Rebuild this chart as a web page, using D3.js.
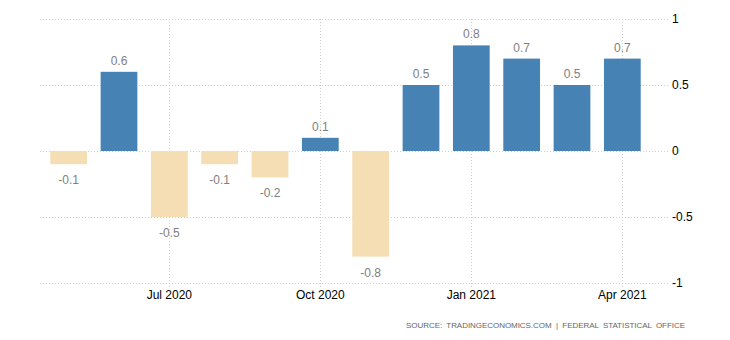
<!DOCTYPE html>
<html>
<head>
<meta charset="utf-8">
<script src="https://cdn.jsdelivr.net/npm/d3@7"></script>
<style>
  body { margin: 0; background: #fff; }
  svg { display: block; font-family: "Liberation Sans", Arial, sans-serif; }
</style>
</head>
<body>
<div id="chart"></div>
<script>
// monthly change, percent
var months = ["May 2020", "Jun 2020", "Jul 2020", "Aug 2020", "Sep 2020", "Oct 2020",
              "Nov 2020", "Dec 2020", "Jan 2021", "Feb 2021", "Mar 2021", "Apr 2021"];
var values = [-0.1, 0.6, -0.5, -0.1, -0.2, 0.1, -0.8, 0.5, 0.8, 0.7, 0.5, 0.7];
var xTicks = ["Jul 2020", "Oct 2020", "Jan 2021", "Apr 2021"];
var yTicks = [-1, -0.5, 0, 0.5, 1];

var width = 730, height = 340;

var svg = d3.select("#chart")
	.append("svg")
	.attr("width", width)
	.attr("height", height);

var x = d3.scaleBand()
	.domain(months)
	.range([43.5, 647.5])
	.paddingInner(0.27)
	.paddingOuter(0.135);

var y = d3.scaleLinear()
	.domain([-1, 1])
	.range([283, 19]);

var grid = svg.append("g")
	.attr("stroke", "#cfcfcf")
	.attr("stroke-width", 1)
	.attr("stroke-dasharray", "1,2");

// horizontal grid
grid.selectAll("line.h")
	.data(yTicks)
	.enter()
	.append("line")
	.attr("class", "h")
	.attr("x1", 40)
	.attr("x2", 668)
	.attr("y1", function(d){ return Math.round(y(d)) + 0.5; })
	.attr("y2", function(d){ return Math.round(y(d)) + 0.5; });

// vertical grid on quarter months
grid.selectAll("line.v")
	.data(xTicks)
	.enter()
	.append("line")
	.attr("class", "v")
	.attr("x1", function(d){ return Math.round(x(d) + x.bandwidth() / 2) + 0.5; })
	.attr("x2", function(d){ return Math.round(x(d) + x.bandwidth() / 2) + 0.5; })
	.attr("y1", 19)
	.attr("y2", 289);

svg.selectAll("rect.bar")
	.data(values)
	.enter()
	.append("rect")
	.attr("class", "bar")
	.attr("x", function(d, i){ return x(months[i]); })
	.attr("width", x.bandwidth())
	.attr("y", function(d){ return y(Math.max(0, d)); })
	.attr("height", function(d){ return Math.abs(y(d) - y(0)); })
	.style("fill", function(d){ return d >= 0 ? "#4682b4" : "#f5deb3"; });

svg.selectAll("text.val")
	.data(values)
	.enter()
	.append("text")
	.attr("class", "val")
	.attr("x", function(d, i){ return x(months[i]) + x.bandwidth() / 2; })
	.attr("y", function(d){ return d >= 0 ? y(d) - 7 : y(d) + 20; })
	.attr("text-anchor", "middle")
	.attr("font-size", 12)
	.attr("fill", "#808080")
	.text(function(d){ return d; });

// y axis labels on the right
svg.selectAll("text.ytick")
	.data(yTicks)
	.enter()
	.append("text")
	.attr("class", "ytick")
	.attr("x", 672)
	.attr("y", function(d){ return y(d) + 4; })
	.attr("font-size", 12)
	.attr("fill", "#000")
	.text(function(d){ return d; });

svg.selectAll("text.xtick")
	.data(xTicks)
	.enter()
	.append("text")
	.attr("class", "xtick")
	.attr("x", function(d){ return x(d) + x.bandwidth() / 2; })
	.attr("y", 299)
	.attr("text-anchor", "middle")
	.attr("font-size", 12)
	.attr("fill", "#000")
	.text(function(d){ return d; });

svg.append("text")
	.attr("x", 406)
	.attr("y", 328)
	.attr("font-size", 8)
	.attr("textLength", 279)
	.attr("lengthAdjust", "spacing")
	.attr("fill", "#666")
	.style("white-space", "pre")
	.text("SOURCE:  TRADINGECONOMICS.COM  |  FEDERAL  STATISTICAL  OFFICE");
</script>
</body>
</html>
